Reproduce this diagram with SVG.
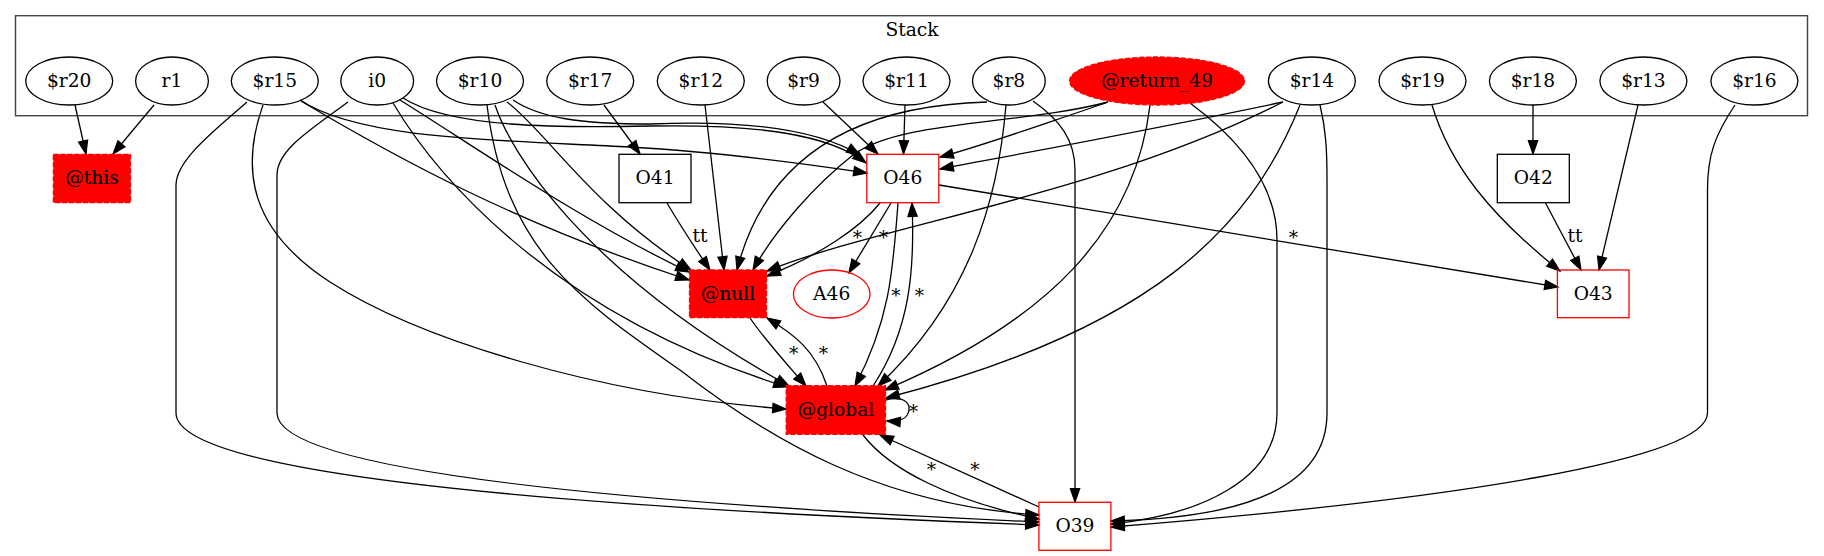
<svg xmlns="http://www.w3.org/2000/svg" width="1824" height="556" viewBox="0 0 1824 556">
<defs>
<marker id="a" markerWidth="16" markerHeight="12" refX="13.3" refY="4.67" orient="auto" markerUnits="userSpaceOnUse" overflow="visible">
<path d="M0,0 L13.3,4.67 L0,9.33 z" fill="#000" stroke="#000" stroke-width="1.2"/>
</marker>
<style>
text{font-family:'DejaVu Serif',serif;font-size:18.67px;fill:#000;text-anchor:middle}
.e path{fill:none;stroke:#000;stroke-width:1.3;marker-end:url(#a)}
.v{fill:none;stroke:#000;stroke-width:1.3}
.r{fill:none;stroke:#000;stroke-width:1.3}
.rr{fill:none;stroke:#ff0000;stroke-width:1.3}
.hot{fill:#ff0000;stroke:#ff0000;stroke-width:1.3;stroke-dasharray:5,2}
</style>
</defs>
<rect width="1824" height="556" fill="#fff"/>
<g id="cluster_stack">
<rect x="15.5" y="15.7" width="1792" height="100" fill="none" stroke="#444" stroke-width="1.4"/>
<text x="912" y="35.7">Stack</text>
</g>
<g id="edges" class="e">
<path d="M75,105 L86,154"/>
<path d="M154,105 L113,154"/>
<path d="M300,100 C360,140 500,140 630,147 C720,152 800,163 867,173"/>
<path d="M301,101 C400,160 520,225 689,280"/>
<path d="M263,105 C240,170 250,230 330,282 C420,340 600,395 786,409"/>
<path d="M247,102 C215,130 176,160 176,185 L176,413 C176,470 500,505 1039,525"/>
<path d="M403,98 C450,128 560,128 650,126 C760,124 830,135 866,163"/>
<path d="M400,100 C480,150 580,220 689,272"/>
<path d="M393,103 C430,165 540,310 787,387"/>
<path d="M348,102 C310,130 277,150 277,175 L277,413 C277,465 550,500 1039,522"/>
<path d="M513,100 C540,118 580,124 650,124 C740,120 815,128 860,155"/>
<path d="M507,102 C545,130 590,205 691,270"/>
<path d="M495,105 C510,150 580,270 789,386"/>
<path d="M487,105 C505,250 580,300 680,370 C770,440 880,505 1039,515"/>
<path d="M604,105 L640,154"/>
<path d="M705,105 L724,270"/>
<path d="M823,102 L878,154"/>
<path d="M905,105 L903.5,154"/>
<path d="M987,102 C880,105 770,140 737,270"/>
<path d="M1006,105 C998,200 970,300 878,386"/>
<path d="M1033,101 C1060,120 1075,140 1075,170 L1075,502"/>
<path d="M1108,102 C1020,125 900,120 853,155 C815,185 775,230 753,270"/>
<path d="M1106,103 C1040,125 985,145 940,157"/>
<path d="M1150,105 C1135,230 1050,320 885,390"/>
<path d="M1190,103 C1240,140 1277,185 1277,240 L1277,413 C1277,480 1200,515 1111,524"/>
<path d="M1283,102 C1150,130 1030,152 940,169"/>
<path d="M1283,102 C1100,195 880,225 767,271"/>
<path d="M1300,105 C1250,230 1150,330 886,398"/>
<path d="M1320,105 C1326,130 1327,150 1327,180 L1327,413 C1327,485 1250,518 1111,521"/>
<path d="M1432,105 C1450,165 1490,215 1560,271"/>
<path d="M1533,105 L1533,154"/>
<path d="M1638,105 L1599,270"/>
<path d="M1735,105 C1715,135 1707.5,155 1707.5,190 L1707.5,413 C1707.5,460 1450,500 1111,527"/>
<path d="M667,203 C680,225 695,248 710,270"/>
<path d="M1545.5,203 L1581,270"/>
<path d="M880,203 C860,228 820,255 767,276"/>
<path d="M891,203 L849,272.7"/>
<path d="M898,203 C893,270 890,320 855,386"/>
<path d="M873,386 C910,330 915,270 912,203"/>
<path d="M939,185 L1558,287"/>
<path d="M750,318 C765,340 785,362 806,386"/>
<path d="M827,386 C815,350 795,335 767,318"/>
<path d="M885.5,400 C903,395 910,403 909,410 C908,418 900,422 887,421"/>
<path d="M863,435 C890,470 950,500 1039,519"/>
<path d="M1039,507 L880,435"/>
</g>
<g id="edge_labels">
<text x="700" y="242">tt</text>
<text x="1575" y="242">tt</text>
<text x="857.3" y="244">*</text>
<text x="883.3" y="244">*</text>
<text x="896" y="302">*</text>
<text x="919.3" y="302">*</text>
<text x="1293.3" y="244">*</text>
<text x="793.7" y="360">*</text>
<text x="823.4" y="360">*</text>
<text x="913.5" y="418">*</text>
<text x="931.3" y="476">*</text>
<text x="974.8" y="476">*</text>
</g>
<g id="n_r20"><ellipse class="v" cx="69.2" cy="81" rx="43.5" ry="24"/><text x="69.2" y="86.5">$r20</text></g>
<g id="n_r1"><ellipse class="v" cx="172" cy="81" rx="36.4" ry="24"/><text x="172" y="86.5">r1</text></g>
<g id="n_r15"><ellipse class="v" cx="274.8" cy="81" rx="43.5" ry="24"/><text x="274.8" y="86.5">$r15</text></g>
<g id="n_i0"><ellipse class="v" cx="377.2" cy="81" rx="36.4" ry="24"/><text x="377.2" y="86.5">i0</text></g>
<g id="n_r10"><ellipse class="v" cx="480" cy="81" rx="43.5" ry="24"/><text x="480" y="86.5">$r10</text></g>
<g id="n_r17"><ellipse class="v" cx="590.2" cy="81" rx="43.5" ry="24"/><text x="590.2" y="86.5">$r17</text></g>
<g id="n_r12"><ellipse class="v" cx="700.8" cy="81" rx="43.5" ry="24"/><text x="700.8" y="86.5">$r12</text></g>
<g id="n_r9"><ellipse class="v" cx="803.6" cy="81" rx="36.4" ry="24"/><text x="803.6" y="86.5">$r9</text></g>
<g id="n_r11"><ellipse class="v" cx="906.5" cy="81" rx="43.5" ry="24"/><text x="906.5" y="86.5">$r11</text></g>
<g id="n_r8"><ellipse class="v" cx="1008.9" cy="81" rx="36.4" ry="24"/><text x="1008.9" y="86.5">$r8</text></g>
<g id="n_return_49"><ellipse class="hot" cx="1157" cy="81" rx="87.5" ry="24"/><text x="1157" y="86.5">@return_49</text></g>
<g id="n_r14"><ellipse class="v" cx="1311.9" cy="81" rx="43.5" ry="24"/><text x="1311.9" y="86.5">$r14</text></g>
<g id="n_r19"><ellipse class="v" cx="1422.5" cy="81" rx="43.5" ry="24"/><text x="1422.5" y="86.5">$r19</text></g>
<g id="n_r18"><ellipse class="v" cx="1532.9" cy="81" rx="43.5" ry="24"/><text x="1532.9" y="86.5">$r18</text></g>
<g id="n_r13"><ellipse class="v" cx="1643.4" cy="81" rx="43.5" ry="24"/><text x="1643.4" y="86.5">$r13</text></g>
<g id="n_r16"><ellipse class="v" cx="1754.4" cy="81" rx="43.5" ry="24"/><text x="1754.4" y="86.5">$r16</text></g>
<g id="n_this"><rect class="hot" x="53.4" y="154.3" width="77.1" height="48.4"/><text x="92" y="184.3">@this</text></g>
<g id="n_O41"><rect class="r" x="619" y="154.3" width="72" height="48.4"/><text x="655" y="184.3">O41</text></g>
<g id="n_O46"><rect class="rr" x="866.8" y="154.3" width="72" height="48.4"/><text x="902.8" y="184.3">O46</text></g>
<g id="n_O42"><rect class="r" x="1497.3" y="154.3" width="72" height="48.4"/><text x="1533.3" y="184.3">O42</text></g>
<g id="n_null"><rect class="hot" x="689.5" y="270" width="77" height="47.7"/><text x="728" y="299.6">@null</text></g>
<g id="n_A46"><ellipse class="rr" cx="831.7" cy="294" rx="38.3" ry="24"/><text x="831.7" y="299.6">A46</text></g>
<g id="n_O43"><rect class="rr" x="1557.4" y="270" width="71.6" height="47.7"/><text x="1593.2" y="299.6">O43</text></g>
<g id="n_global"><rect class="hot" x="786.2" y="385.7" width="99.3" height="48.6"/><text x="835.9" y="415.6">@global</text></g>
<g id="n_O39"><rect class="rr" x="1038.9" y="502.3" width="72" height="48"/><text x="1074.9" y="532">O39</text></g>
</svg>
